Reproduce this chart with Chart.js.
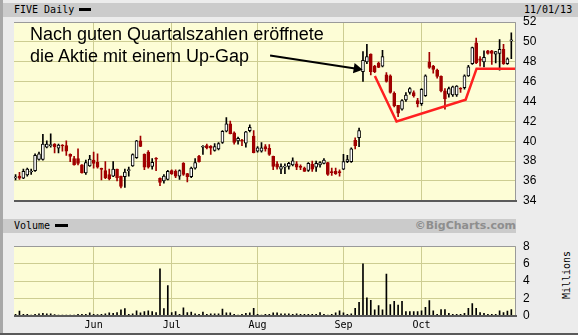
<!DOCTYPE html>
<html>
<head>
<meta charset="utf-8">
<script src="https://cdn.jsdelivr.net/npm/chart.js@4.4.0/dist/chart.umd.min.js"></script>
<style>
  html, body { margin: 0; padding: 0; }
  body { width: 578px; height: 335px; background: #ececec; position: relative; overflow: hidden; }
  .abs { position: absolute; }
  .mono { font-family: "DejaVu Sans Mono", monospace; font-size: 10px; line-height: 14px; color: #000; white-space: nowrap; }
  #leftStrip { left: 0; top: 0; width: 3px; height: 335px; background: #a8a8a8; }
  #bottomLine { left: 0; top: 333px; width: 578px; height: 2px; background: #5a5a5a; }
  #topBand { left: 3px; top: 3px; width: 575px; height: 14px; background: #cbcbcb; }
  #midBand { left: 3px; top: 219px; width: 513px; height: 14px; background: #cbcbcb; }
  .swatch { background: #000; height: 3px; }
  #copyright { right: 62px; top: 219px; line-height: 14px; font: bold 11px "DejaVu Sans", sans-serif; color: #8e8e8e; white-space: nowrap; }
  #millions { left: 567px; top: 275px; transform: translate(-50%, -50%) rotate(-90deg); }
  #note { left: 30px; top: 23px; font: 18px/22px "Liberation Sans", Arial, sans-serif; color: #000; white-space: nowrap; }
</style>
</head>
<body>
<div id="leftStrip" class="abs"></div>
<div id="topBand" class="abs"></div>
<div id="midBand" class="abs"></div>
<div id="bottomLine" class="abs"></div>
<div class="abs mono" style="left:14px; top:3px;">FIVE Daily</div>
<div class="abs swatch" style="left:79px; top:8px; width:12px;"></div>
<div class="abs mono" style="left:524px; top:3px;">11/01/13</div>
<div class="abs mono" style="left:14px; top:219px;">Volume</div>
<div class="abs swatch" style="left:55px; top:224px; width:13px;"></div>
<div id="copyright" class="abs">©BigCharts.com</div>
<div id="millions" class="abs mono">Millions</div>

<canvas id="priceChart" class="abs" style="left:0; top:0;" width="578" height="215"></canvas>
<canvas id="volumeChart" class="abs" style="left:0; top:232px;" width="578" height="103"></canvas>

<div id="note" class="abs">Nach guten Quartalszahlen eröffnete<br>die Aktie mit einem Up-Gap</div>

<script>
// Handelstage 03.05.2013 - 01.11.2013
const holidays = ['2013-05-27', '2013-07-04', '2013-09-02'];
const monthLabels = ['Jun', 'Jul', 'Aug', 'Sep', 'Oct'];
const monthKeys = ['2013-06', '2013-07', '2013-08', '2013-09', '2013-10'];

const open = [
  36.30, 36.48, 36.29, 36.61, 36.90, 37.03, 38.16, 38.16, 39.39, 39.55,
  39.71, 39.29, 39.55, 39.55, 38.68, 38.26, 38.26, 37.61, 36.81, 37.52,
  38.10, 37.87, 37.19, 37.03, 36.65, 36.48, 37.19, 36.48, 36.42, 37.03,
  37.52, 38.35, 40.03, 38.68, 38.90, 37.45, 38.23, 36.26, 36.00, 36.16,
  37.03, 36.97, 36.48, 37.77, 36.74, 36.42, 37.29, 38.48, 39.39, 39.55,
  39.48, 39.06, 39.23, 39.87, 41.00, 41.74, 40.84, 40.03, 40.03, 39.81,
  41.06, 40.52, 39.00, 39.00, 39.45, 39.29, 38.48, 37.71, 37.19, 37.39,
  37.45, 37.61, 37.71, 37.39, 37.29, 37.06, 37.68, 37.39, 37.61, 37.77,
  37.84, 36.87, 36.97, 36.87, 37.19, 37.94, 37.94, 40.10, 40.35, 47.00,
  47.97, 48.77, 47.55, 47.87, 47.55, 46.68, 46.58, 44.81, 43.61, 43.23,
  44.16, 44.90, 44.90, 44.10, 43.77, 44.58, 47.97, 47.55, 47.16, 46.52,
  45.06, 44.74, 44.65, 44.65, 45.29, 45.39, 46.58, 47.81, 49.90, 48.29,
  47.97, 49.10, 49.10, 48.77, 48.84, 49.26, 47.81, 50.10
];
const high = [
  36.65, 36.87, 37.19, 37.29, 37.19, 38.74, 38.90, 40.68, 40.03, 40.74,
  39.75, 39.71, 39.65, 40.03, 38.74, 38.48, 39.23, 37.65, 38.10, 38.58,
  38.90, 38.74, 37.29, 37.94, 37.19, 37.94, 37.20, 36.50, 37.19, 37.39,
  38.74, 40.10, 40.52, 38.74, 39.06, 38.26, 38.35, 36.32, 36.65, 37.06,
  37.13, 37.13, 37.13, 37.84, 36.77, 37.39, 38.26, 38.58, 39.55, 39.71,
  39.55, 39.77, 39.87, 41.06, 42.39, 42.03, 40.94, 40.42, 40.19, 41.00,
  41.65, 41.06, 39.45, 39.87, 39.65, 39.65, 38.50, 37.94, 37.71, 37.71,
  37.87, 38.32, 37.94, 37.61, 37.39, 37.84, 38.00, 38.00, 37.94, 38.26,
  37.87, 37.29, 37.29, 37.13, 38.68, 38.58, 39.32, 40.35, 41.32, 49.03,
  49.74, 48.80, 47.65, 47.97, 49.16, 46.90, 46.68, 44.97, 43.62, 44.19,
  44.90, 45.39, 45.06, 44.32, 45.29, 46.68, 48.94, 47.65, 47.26, 46.58,
  45.29, 45.45, 45.55, 45.61, 45.39, 46.68, 47.65, 49.48, 50.39, 48.52,
  49.10, 49.16, 49.16, 49.05, 50.23, 49.74, 48.39, 50.90
];
const low = [
  36.10, 36.16, 36.23, 36.48, 36.65, 36.97, 38.10, 38.10, 39.32, 39.39,
  38.81, 38.81, 39.00, 38.58, 37.94, 37.58, 37.61, 36.77, 36.65, 37.45,
  37.29, 37.29, 36.10, 36.23, 36.10, 36.42, 36.00, 35.29, 35.35, 36.48,
  37.45, 38.26, 39.45, 37.13, 37.29, 37.19, 37.03, 35.52, 35.77, 36.10,
  36.65, 36.32, 36.16, 36.55, 35.90, 36.32, 37.19, 37.90, 38.68, 39.23,
  38.68, 39.00, 39.13, 39.77, 40.94, 40.74, 39.71, 39.71, 39.55, 39.39,
  40.94, 38.81, 38.90, 38.90, 39.00, 38.58, 37.13, 37.19, 36.74, 36.74,
  37.19, 37.52, 37.13, 37.13, 36.95, 36.97, 36.97, 36.97, 37.39, 37.71,
  36.55, 36.55, 36.65, 36.48, 37.13, 37.84, 37.87, 39.23, 39.45, 46.03,
  47.81, 46.68, 46.90, 47.40, 47.48, 45.94, 44.84, 43.45, 42.48, 43.13,
  44.00, 44.74, 44.42, 43.45, 43.61, 44.52, 47.32, 46.84, 46.35, 44.97,
  43.23, 44.42, 44.52, 44.52, 44.90, 45.23, 46.52, 47.74, 47.81, 47.55,
  47.48, 48.77, 47.74, 47.87, 47.16, 47.74, 47.74, 48.30
];
const close = [
  36.35, 36.29, 36.97, 37.19, 36.93, 38.58, 38.74, 39.71, 39.71, 39.58,
  39.45, 39.61, 39.52, 39.00, 38.48, 37.61, 37.77, 36.81, 37.84, 38.19,
  37.77, 37.39, 37.16, 36.32, 36.23, 37.19, 36.32, 35.45, 36.90, 37.06,
  38.65, 40.03, 39.48, 37.39, 37.39, 37.87, 38.19, 35.84, 36.48, 36.97,
  36.71, 36.48, 37.03, 36.65, 36.42, 37.29, 37.84, 37.94, 39.42, 39.32,
  39.29, 39.45, 39.77, 41.00, 41.74, 40.77, 39.87, 40.29, 40.00, 40.94,
  41.39, 38.84, 39.32, 39.32, 39.23, 38.68, 37.45, 37.39, 37.45, 37.42,
  37.77, 38.03, 37.39, 37.36, 36.97, 37.77, 37.19, 37.77, 37.84, 38.10,
  36.65, 36.84, 36.74, 36.84, 37.94, 38.16, 39.23, 39.55, 41.06, 48.13,
  48.52, 47.00, 47.00, 47.42, 48.52, 46.03, 44.90, 43.55, 42.81, 44.10,
  44.65, 45.29, 44.58, 43.77, 45.23, 46.58, 47.42, 47.23, 46.52, 45.06,
  44.26, 45.29, 45.48, 45.55, 45.23, 46.58, 47.48, 49.42, 47.87, 48.13,
  48.45, 48.84, 48.84, 49.03, 49.26, 47.81, 48.29, 50.13
];
// Volumen in Millionen
const volume = [
  0.20, 0.55, 0.20, 0.20, 0.10, 0.20, 0.25, 0.30, 0.25, 0.25,
  0.15, 0.10, 0.10, 0.10, 0.10, 0.10, 0.20, 0.20, 0.20, 0.35,
  0.20, 0.15, 0.20, 0.25, 0.35, 0.30, 0.40, 0.70, 0.85, 0.20,
  0.25, 0.60, 0.35, 0.50, 0.60, 0.50, 0.40, 5.40, 0.85, 3.50,
  0.40, 0.50, 0.20, 0.95, 0.40, 0.45, 0.25, 0.20, 0.45, 0.20,
  0.25, 0.25, 0.25, 0.80, 0.35, 0.35, 0.20, 0.10, 0.20, 0.30,
  0.35, 0.87, 0.20, 0.10, 0.20, 0.20, 0.35, 0.35, 0.25, 0.25,
  0.25, 0.20, 0.25, 0.20, 0.20, 0.20, 0.20, 0.20, 0.40, 0.20,
  0.10, 0.20, 0.35, 0.60, 0.35, 0.20, 0.25, 0.87, 1.56, 5.97,
  2.08, 1.80, 0.70, 1.20, 0.70, 4.80, 1.30, 1.67, 1.25, 1.67,
  0.50, 0.50, 0.50, 0.50, 0.60, 1.00, 1.77, 0.60, 0.20, 0.75,
  0.75, 0.30, 0.20, 0.20, 0.20, 0.30, 0.87, 1.42, 0.87, 0.40,
  0.30, 0.20, 0.20, 0.20, 0.60, 0.40, 0.55, 0.75
];

// Markierungen (Handelstag-Index, Kurs)
const arrowLine = [[65.2, 48.62], [87.4, 47.3]];
const trendLine = [[92.05, 46.56], [97.6, 41.98], [115.3, 44.17], [118.1, 47.3], [128.2, 47.3]];

// Handelstage erzeugen
function tradingDays(from, to) {
  const days = [];
  const d = new Date(from + 'T00:00:00Z');
  const end = new Date(to + 'T00:00:00Z');
  while (d <= end) {
    const key = d.toISOString().slice(0, 10);
    const wd = d.getUTCDay();
    if (wd !== 0 && wd !== 6 && !holidays.includes(key)) days.push(key);
    d.setUTCDate(d.getUTCDate() + 1);
  }
  return days;
}
const dates = tradingDays('2013-05-03', '2013-11-01');
const monthStarts = monthKeys.map(m => dates.findIndex(d => d.startsWith(m)));

const UP = '#000000';
const DOWN = '#a00000';
const GRID = '#cdcd92';
const X_MIN = -0.4, X_MAX = 128.2;

// Hintergrund und Rahmen der Zeichenfläche
const plotFrame = {
  id: 'plotFrame',
  beforeDraw(chart) {
    const { ctx, chartArea: a } = chart;
    ctx.save();
    ctx.fillStyle = '#fdfdd6';
    ctx.fillRect(a.left, a.top, a.right - a.left, a.bottom - a.top);
    ctx.restore();
  },
  afterDraw(chart) {
    const { ctx, chartArea: a } = chart;
    ctx.save();
    ctx.strokeStyle = '#9a9a9a';
    ctx.lineWidth = 1;
    ctx.beginPath();
    ctx.moveTo(a.left, Math.round(a.top) + 0.5);
    ctx.lineTo(Math.round(a.right) - 0.5, Math.round(a.top) + 0.5);
    ctx.lineTo(Math.round(a.right) - 0.5, a.bottom);
    ctx.stroke();
    ctx.fillStyle = '#5a5a5a';
    ctx.fillRect(a.left, Math.round(a.bottom) - 1, a.right - a.left + 1, 2);
    ctx.restore();
  }
};

function xScale(showLabels) {
  return {
    type: 'linear',
    min: X_MIN,
    max: X_MAX,
    offset: false,
    afterBuildTicks: axis => { axis.ticks = monthStarts.map(v => ({ value: v })); },
    afterFit: axis => { axis.height = showLabels ? 17 : 0; },
    grid: { color: GRID, offset: false, drawTicks: false },
    border: { display: false },
    ticks: {
      display: showLabels,
      autoSkip: false,
      maxRotation: 0,
      padding: 3,
      color: '#000',
      font: { family: 'DejaVu Sans Mono', size: 10 },
      callback: v => monthLabels[monthStarts.indexOf(v)]
    }
  };
}

function yScale(min, max) {
  return {
    position: 'right',
    min: min,
    max: max,
    afterFit: axis => { axis.width = 62; },
    grid: { color: GRID, drawTicks: false },
    border: { display: false },
    ticks: { stepSize: 2, padding: 7, color: '#000', font: { family: 'Liberation Sans', size: 12 } }
  };
}

const isUp = i => close[i] >= open[i];

new Chart(document.getElementById('priceChart'), {
  type: 'bar',
  data: {
    datasets: [
      {
        type: 'line',
        order: 0,
        data: trendLine.map(p => ({ x: p[0], y: p[1] })),
        borderColor: '#ff2020',
        borderWidth: 2.5,
        pointRadius: 0
      },
      {
        type: 'line',
        order: 0,
        data: arrowLine.map(p => ({ x: p[0], y: p[1] })),
        borderColor: '#000',
        borderWidth: 2,
        pointStyle: 'triangle',
        pointRadius: [0, 6],
        pointRotation: 99,
        pointBackgroundColor: '#000',
        pointBorderWidth: 0
      },
      {
        order: 1,
        data: open.map((o, i) => ({ x: i, y: [o, close[i]] })),
        grouped: false,
        barThickness: 3,
        minBarLength: 1,
        borderWidth: 1,
        borderSkipped: false,
        backgroundColor: c => isUp(c.dataIndex) ? '#ffffff' : DOWN,
        borderColor: c => isUp(c.dataIndex) ? UP : DOWN
      },
      {
        order: 2,
        data: low.map((l, i) => ({ x: i, y: [l, high[i]] })),
        grouped: false,
        barThickness: 1,
        backgroundColor: c => isUp(c.dataIndex) ? UP : DOWN
      }
    ]
  },
  options: {
    responsive: false,
    animation: false,
    layout: { padding: { left: 14, top: 22, right: 0, bottom: 6 } },
    plugins: { legend: { display: false }, tooltip: { enabled: false } },
    scales: { x: xScale(false), y: yScale(34, 52) }
  },
  plugins: [plotFrame]
});

new Chart(document.getElementById('volumeChart'), {
  type: 'bar',
  data: {
    datasets: [{
      data: volume.map((v, i) => ({ x: i, y: v })),
      barThickness: 1,
      backgroundColor: '#000'
    }]
  },
  options: {
    responsive: false,
    animation: false,
    layout: { padding: { left: 14, top: 7, right: 0, bottom: 2 } },
    plugins: { legend: { display: false }, tooltip: { enabled: false } },
    scales: { x: xScale(true), y: yScale(0, 8) }
  },
  plugins: [plotFrame]
});
</script>
</body>
</html>
